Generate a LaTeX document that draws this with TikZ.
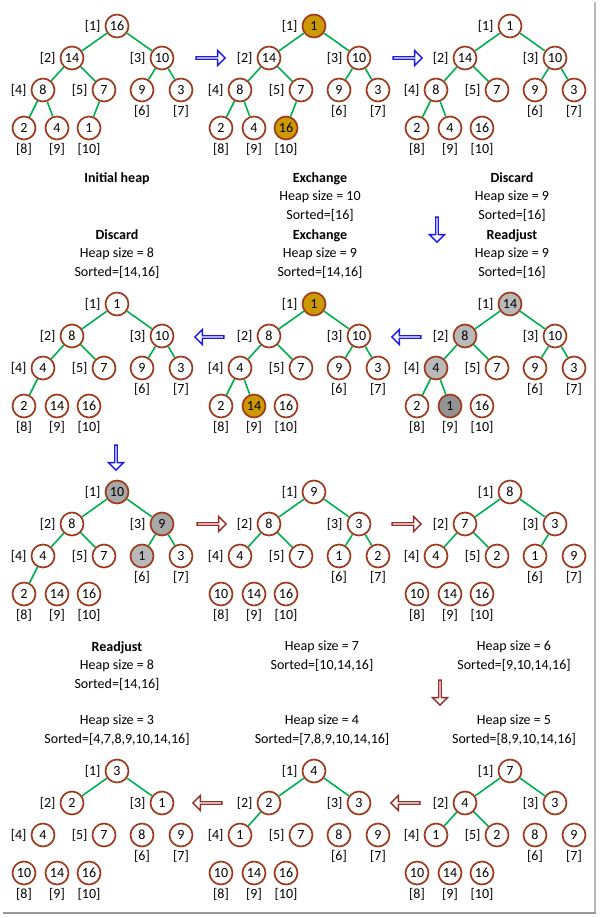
\documentclass[tikz,border=0pt]{standalone}
\usepackage{fontspec}
\setmainfont{Carlito}
\usetikzlibrary{positioning,shapes.arrows}

\definecolor{keybrown}{RGB}{158,59,30}
\definecolor{linkgreen}{RGB}{0,176,80}
\definecolor{swapgold}{RGB}{204,153,0}
\definecolor{flowblue}{RGB}{25,25,240}
\definecolor{flowred}{RGB}{150,45,40}

\tikzset{
  key/.style={circle, draw=keybrown, line width=1.7pt, fill=white,
    minimum size=23pt, inner sep=0pt},
  plain/.style={},
  swapped/.style={fill=swapgold},
  sifted/.style={fill=gray!55},
  raised/.style={fill=gray!68},
  sunk/.style={fill=gray!85},
  idx/.style={inner sep=1pt},
  link/.style={linkgreen, line width=1.6pt},
  caption/.style={align=center, inner sep=0pt, anchor=north,
    font=\fontsize{14}{18.5}\selectfont},
  blockarrow/.style={single arrow, draw=#1, line width=1.4pt, fill=white,
    minimum width=15pt, minimum height=29pt, inner sep=0pt,
    single arrow head extend=3.5pt},
}

% heap drawn as array: name, root x, root y, heap size, key/fill list
\newcommand{\heaptree}[5]{%
  \foreach \v/\f [count=\i] in {#5} {
    \pgfmathsetmacro{\dx}{{0,-45,45,-74,-13,25,64,-93,-60,-28}[\i-1]}
    \pgfmathsetmacro{\dy}{{0,32,32,64,64,64,64,102,102,102}[\i-1]}
    \node[key,\f] (#1-\i) at ({#2+\dx},{#3+\dy}) {\v};
  }
  % indices
  \foreach \i in {1,...,5}
    \node[idx, left=3pt of #1-\i] (#1-i\i) {[\i]};
  \foreach \i in {6,...,10}
    \node[idx, below=2pt of #1-\i] (#1-i\i) {[\i]};
  % links, only inside the heap
  \foreach \i in {2,...,#4} {
    \pgfmathtruncatemacro{\p}{\i/2}
    \draw[link] (#1-\p) -- (#1-\i);
  }
}

\begin{document}
\begin{tikzpicture}[x=1pt, y=-1pt, font=\fontsize{14}{17}\selectfont]
\useasboundingbox (0,0) rectangle (601,918);

% Frame shadow
\draw[gray!55, line width=1.2pt] (595,2) -- (595,913);
\draw[gray!80, line width=2pt] (3,913) -- (596,913);

% Row 1
\heaptree{t1}{117}{26}{10}{16/plain,14/plain,10/plain,8/plain,7/plain,9/plain,3/plain,2/plain,4/plain,1/plain}
\heaptree{t2}{314}{26}{10}{1/swapped,14/plain,10/plain,8/plain,7/plain,9/plain,3/plain,2/plain,4/plain,16/swapped}
\heaptree{t3}{510}{26}{9}{1/plain,14/plain,10/plain,8/plain,7/plain,9/plain,3/plain,2/plain,4/plain,16/plain}

\node[caption] (c1) at (117,172) {\textbf{Initial heap}};
\node[caption] (c2) at (320,172) {\textbf{Exchange}\\Heap size = 10\\Sorted=[16]};
\node[caption] (c3) at (512,172) {\textbf{Discard}\\Heap size = 9\\Sorted=[16]};

% Row 2
\node[caption] (c4) at (117,229) {\textbf{Discard}\\Heap size = 8\\Sorted=[14,16]};
\node[caption] (c5) at (320,229) {\textbf{Exchange}\\Heap size = 9\\Sorted=[14,16]};
\node[caption] (c6) at (512,229) {\textbf{Readjust}\\Heap size = 9\\Sorted=[16]};

\heaptree{t4}{117}{304}{8}{1/plain,8/plain,10/plain,4/plain,7/plain,9/plain,3/plain,2/plain,14/plain,16/plain}
\heaptree{t5}{314}{304}{9}{1/swapped,8/plain,10/plain,4/plain,7/plain,9/plain,3/plain,2/plain,14/swapped,16/plain}
\heaptree{t6}{510}{304}{9}{14/sifted,8/sifted,10/plain,4/sifted,7/plain,9/plain,3/plain,2/plain,1/sunk,16/plain}

% Row 3
\heaptree{t7}{117}{492}{8}{10/raised,8/plain,9/raised,4/plain,7/plain,1/sifted,3/plain,2/plain,14/plain,16/plain}
\heaptree{t8}{314}{492}{7}{9/plain,8/plain,3/plain,4/plain,7/plain,1/plain,2/plain,10/plain,14/plain,16/plain}
\heaptree{t9}{510}{492}{6}{8/plain,7/plain,3/plain,4/plain,2/plain,1/plain,9/plain,10/plain,14/plain,16/plain}

\node[caption] (c7) at (117,641) {\textbf{Readjust}\\Heap size = 8\\Sorted=[14,16]};
\node[caption] (c8) at (322,641) {Heap size = 7\\Sorted=[10,14,16]};
\node[caption] (c9) at (514,641) {Heap size = 6\\Sorted=[9,10,14,16]};

% Row 4
\node[caption] (c10) at (117,715) {Heap size = 3\\Sorted=[4,7,8,9,10,14,16]};
\node[caption] (c11) at (322,715) {Heap size = 4\\Sorted=[7,8,9,10,14,16]};
\node[caption] (c12) at (514,715) {Heap size = 5\\Sorted=[8,9,10,14,16]};

\heaptree{t10}{117}{771}{3}{3/plain,2/plain,1/plain,4/plain,7/plain,8/plain,9/plain,10/plain,14/plain,16/plain}
\heaptree{t11}{314}{771}{4}{4/plain,2/plain,3/plain,1/plain,7/plain,8/plain,9/plain,10/plain,14/plain,16/plain}
\heaptree{t12}{510}{771}{5}{7/plain,4/plain,3/plain,1/plain,2/plain,8/plain,9/plain,10/plain,14/plain,16/plain}

% Flow arrows
\node[blockarrow=flowblue] (a1) at (210,58) {};
\node[blockarrow=flowblue] (a2) at (407,58) {};
\node[blockarrow=flowblue, minimum height=25pt, shape border rotate=270] (a3) at (437,229) {};
\node[blockarrow=flowblue, shape border rotate=180] (a4) at (407,337) {};
\node[blockarrow=flowblue, shape border rotate=180] (a5) at (210,337) {};
\node[blockarrow=flowblue, minimum height=25pt, shape border rotate=270] (a6) at (116,457) {};
\node[blockarrow=flowred] (a7) at (211,524) {};
\node[blockarrow=flowred] (a8) at (406,524) {};
\node[blockarrow=flowred, minimum height=25pt, shape border rotate=270] (a9) at (440,692) {};
\node[blockarrow=flowred, shape border rotate=180] (a10) at (406,803) {};
\node[blockarrow=flowred, shape border rotate=180] (a11) at (208,803) {};

\end{tikzpicture}
\end{document}
